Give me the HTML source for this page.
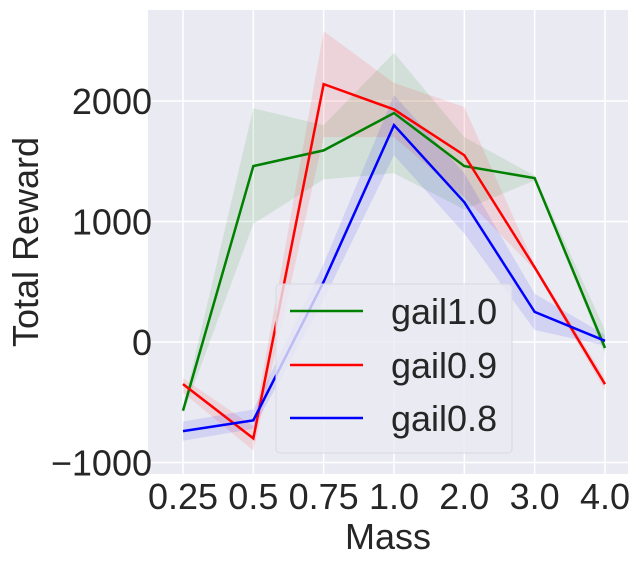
<!DOCTYPE html>
<html><head><meta charset="utf-8"><style>
html,body{margin:0;padding:0;background:#fff;}
svg text{font-family:"Liberation Sans",sans-serif;fill:#262626;}
</style></head><body>
<svg id="chart" width="640" height="567">
<rect x="148" y="10" width="480" height="464" fill="#eaeaf2"/>
<g id="grid"></g><g id="bands"></g><g id="lines"></g><g id="ticks"></g>
<text x="388" y="549" font-size="36" text-anchor="middle">Mass</text>
<text transform="translate(38,242) rotate(-90)" font-size="36" text-anchor="middle">Total Reward</text>
<g>
<rect x="276" y="284" width="236" height="169" rx="4" fill="#eaeaf2" fill-opacity="0.8" stroke="#d8d8e0"/>
<line x1="290" y1="311" x2="363" y2="311" stroke="green" stroke-width="2.5"/>
<text x="391" y="324" font-size="36">gail1.0</text>
<line x1="290" y1="365" x2="363" y2="365" stroke="red" stroke-width="2.5"/>
<text x="391" y="378" font-size="36">gail0.9</text>
<line x1="290" y1="418" x2="363" y2="418" stroke="blue" stroke-width="2.5"/>
<text x="391" y="431" font-size="36">gail0.8</text>
</g>
</svg>
<script>
const categories=["0.25","0.5","0.75","1.0","2.0","3.0","4.0"];
const yTicks=[-1000,0,1000,2000];
const yTickLabels=["\u22121000","0","1000","2000"];
const green=[-570,1460,1590,1900,1460,1360,-50];
const greenLo=[-600,980,1350,1400,1100,1340,-100];
const greenHi=[-540,1940,1800,2400,1700,1380,100];
const red=[-350,-800,2140,1930,1550,620,-350];
const redLo=[-420,-900,1700,1700,1200,600,-400];
const redHi=[-300,-700,2580,2150,1950,640,-300];
const blue=[-740,-650,500,1800,1160,250,10];
const blueLo=[-820,-720,350,1550,900,100,-30];
const blueHi=[-660,-560,650,2050,1400,400,60];
const NS="http://www.w3.org/2000/svg";
function xs(i){return 183+i*70.33;}
function ys(v){return 342-v*0.1205;}
function mk(t,a,p){const e=document.createElementNS(NS,t);for(const k in a)e.setAttribute(k,a[k]);document.getElementById(p).appendChild(e);return e;}
categories.forEach((c,i)=>{
 const g=mk("line",{x1:xs(i),x2:xs(i),y1:10,y2:474,stroke:"#fff","stroke-width":1.5},"grid");
 
 
 const t=mk("text",{x:xs(i),y:509,"font-size":36,"text-anchor":"middle"},"ticks");
 t.textContent=c;
 
 
});
yTicks.forEach((v,i)=>{
 const g=mk("line",{x1:148,x2:628,y1:ys(v),y2:ys(v),stroke:"#fff","stroke-width":1.5},"grid");
 
 
 const t=mk("text",{x:152,y:ys(v)+13,"font-size":36,"text-anchor":"end"},"ticks");
 t.textContent=yTickLabels[i];
 
 
});
function series(name,col,vals,lo,hi){
 let d=lo.map((v,i)=>(i?"L":"M")+xs(i)+","+ys(v)).join("");
 for(let i=hi.length-1;i>=0;i--)d+="L"+xs(i)+","+ys(hi[i]);
 const b=mk("path",{d:d+"Z",fill:col,"fill-opacity":0.1,stroke:"none"},"bands");
 
 
 const l=mk("polyline",{points:vals.map((v,i)=>xs(i)+","+ys(v)).join(" "),fill:"none",stroke:col,"stroke-width":2.5},"lines");
 
 
}
series("gail1.0","green",green,greenLo,greenHi);
series("gail0.9","red",red,redLo,redHi);
series("gail0.8","blue",blue,blueLo,blueHi);
</script>
</body></html>
